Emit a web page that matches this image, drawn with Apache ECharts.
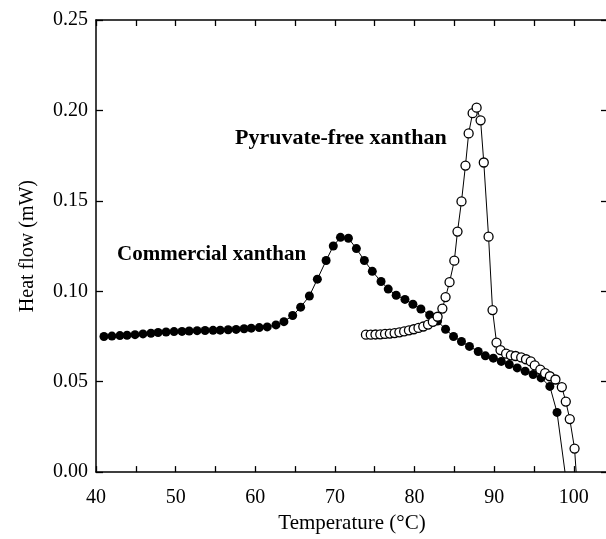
<!DOCTYPE html>
<html><head><meta charset="utf-8">
<script src="https://cdn.jsdelivr.net/npm/echarts@6/dist/echarts.min.js"></script>
<style>html,body{margin:0;padding:0;background:#fff;overflow:hidden}#c{width:620px;height:539px}</style>
</head><body><div id="c"></div>
<script>
const commercialTemp = [41.0,42.0,43.0,43.9,44.9,45.9,46.9,47.8,48.8,49.8,50.8,51.7,52.7,53.7,54.7,55.6,56.6,57.6,58.6,59.5,60.5,61.5,62.6,63.6,64.7,65.7,66.8,67.8,68.9,69.8,70.7,71.7,72.7,73.7,74.7,75.8,76.7,77.7,78.8,79.8,80.8,81.9,82.9,83.9,84.9,85.9,86.9,88.0,88.9,89.9,90.9,91.9,92.9,93.9,94.9,95.9,97.0,97.9];
const commercialHeat = [0.0750,0.0752,0.0755,0.0757,0.0760,0.0764,0.0768,0.0772,0.0775,0.0777,0.0778,0.0780,0.0782,0.0783,0.0784,0.0785,0.0787,0.0789,0.0793,0.0796,0.0799,0.0803,0.0814,0.0832,0.0866,0.0912,0.0974,0.1067,0.1170,0.1250,0.1298,0.1293,0.1236,0.1170,0.1110,0.1054,0.1012,0.0978,0.0955,0.0928,0.0902,0.0869,0.0835,0.0790,0.0750,0.0722,0.0695,0.0667,0.0643,0.0630,0.0612,0.0595,0.0576,0.0558,0.0540,0.0521,0.0474,0.0330];
const commercialEnd = [98.9, 0.0];

const pyruvateTemp = [73.9,74.5,75.1,75.7,76.3,76.9,77.5,78.1,78.7,79.3,79.9,80.5,81.1,81.7,82.3,82.9,83.5,83.9,84.4,85.0,85.4,85.9,86.4,86.8,87.3,87.8,88.3,88.7,89.3,89.8,90.3,90.8,91.5,92.1,92.7,93.4,94.0,94.6,95.1,95.8,96.4,97.0,97.7,98.5,99.0,99.5,100.1];
const pyruvateHeat = [0.0760,0.0760,0.0761,0.0762,0.0764,0.0766,0.0769,0.0773,0.0778,0.0784,0.0790,0.0797,0.0805,0.0816,0.0831,0.0859,0.0904,0.0968,0.1050,0.1169,0.1330,0.1497,0.1695,0.1873,0.1985,0.2015,0.1945,0.1712,0.1302,0.0896,0.0716,0.0675,0.0655,0.0646,0.0642,0.0634,0.0624,0.0612,0.0590,0.0567,0.0547,0.0530,0.0512,0.0470,0.0390,0.0293,0.0130];
const pyruvateEnd = [100.3, 0.0];

const xLabels = [40,50,60,70,80,90,100];
const yLabels = ['0.00','0.05','0.10','0.15','0.20','0.25'];
const labelCommercial = 'Commercial xanthan';
const labelPyruvate = 'Pyruvate-free xanthan';

const FONT = "'Liberation Serif','Times New Roman',serif";
function pairs(t, h, end) {
  const d = t.map((x, i) => [x, h[i]]);
  d.push({ value: end, symbol: 'none' });
  return d;
}
const axisLineStyle = { color: '#000', width: 1.5 };
const chart = echarts.init(document.getElementById('c'), null, { renderer: 'canvas' });
const xBase = {
  type: 'value', min: 40, max: 104.3, interval: 5,
  splitLine: { show: false },
  axisLine: { show: true, onZero: false, lineStyle: axisLineStyle },
  axisTick: { show: true, inside: true, length: 6, lineStyle: { color: '#000', width: 1.3 } }
};
const yBase = {
  type: 'value', min: 0, max: 0.25, interval: 0.05,
  splitLine: { show: false },
  axisLine: { show: true, onZero: false, lineStyle: axisLineStyle },
  axisTick: { show: true, inside: true, length: 7, lineStyle: { color: '#000', width: 1.3 } }
};
chart.setOption({
  animation: false,
  backgroundColor: '#fff',
  grid: { left: 96, top: 20, right: 12, bottom: 62, containLabel: false },
  xAxis: [
    Object.assign({}, xBase, {
      position: 'bottom',
      axisLabel: {
        margin: 16, color: '#000', fontFamily: FONT, fontSize: 20,
        showMaxLabel: false,
        formatter: v => { const r = Math.round(v); return (Math.abs(v - r) < 1e-6 && xLabels.indexOf(r) >= 0) ? String(r) : ''; }
      },
      name: 'Temperature (°C)', nameLocation: 'middle', nameGap: 36,
      nameTextStyle: { color: '#000', fontFamily: FONT, fontSize: 21 }
    }),
    Object.assign({}, xBase, { position: 'top', axisLabel: { show: false } })
  ],
  yAxis: [
    Object.assign({}, yBase, {
      position: 'left',
      axisLabel: {
        margin: 8, color: '#000', fontFamily: FONT, fontSize: 20,
        formatter: v => { const s = v.toFixed(2); return yLabels.indexOf(s) >= 0 ? s : ''; }
      },
      name: 'Heat flow (mW)', nameLocation: 'middle', nameGap: 58, nameRotate: 90,
      nameTextStyle: { color: '#000', fontFamily: FONT, fontSize: 20 }
    }),
    Object.assign({}, yBase, { position: 'right', axisLabel: { show: false } })
  ],
  series: [
    {
      type: 'line', name: labelCommercial, xAxisIndex: 0, yAxisIndex: 0, z: 2,
      data: pairs(commercialTemp, commercialHeat, commercialEnd),
      symbol: 'circle', symbolSize: 9, showSymbol: true,
      lineStyle: { color: '#000', width: 1 },
      itemStyle: { color: '#000', borderColor: '#000', borderWidth: 0 },
      emphasis: { disabled: true }
    },
    {
      type: 'line', name: labelPyruvate, xAxisIndex: 0, yAxisIndex: 0, z: 3,
      data: pairs(pyruvateTemp, pyruvateHeat, pyruvateEnd),
      symbol: 'circle', symbolSize: 9, showSymbol: true,
      lineStyle: { color: '#000', width: 1 },
      itemStyle: { color: '#fff', borderColor: '#000', borderWidth: 1.3 },
      emphasis: { disabled: true }
    }
  ],
  graphic: [
    { type: 'text', left: 117, top: 244, style: { text: labelCommercial, font: "bold 21px " + FONT, fill: '#000' } },
    { type: 'text', left: 235, top: 127, style: { text: labelPyruvate, font: "bold 22px " + FONT, fill: '#000' } }
  ]
});
</script>
</body></html>
